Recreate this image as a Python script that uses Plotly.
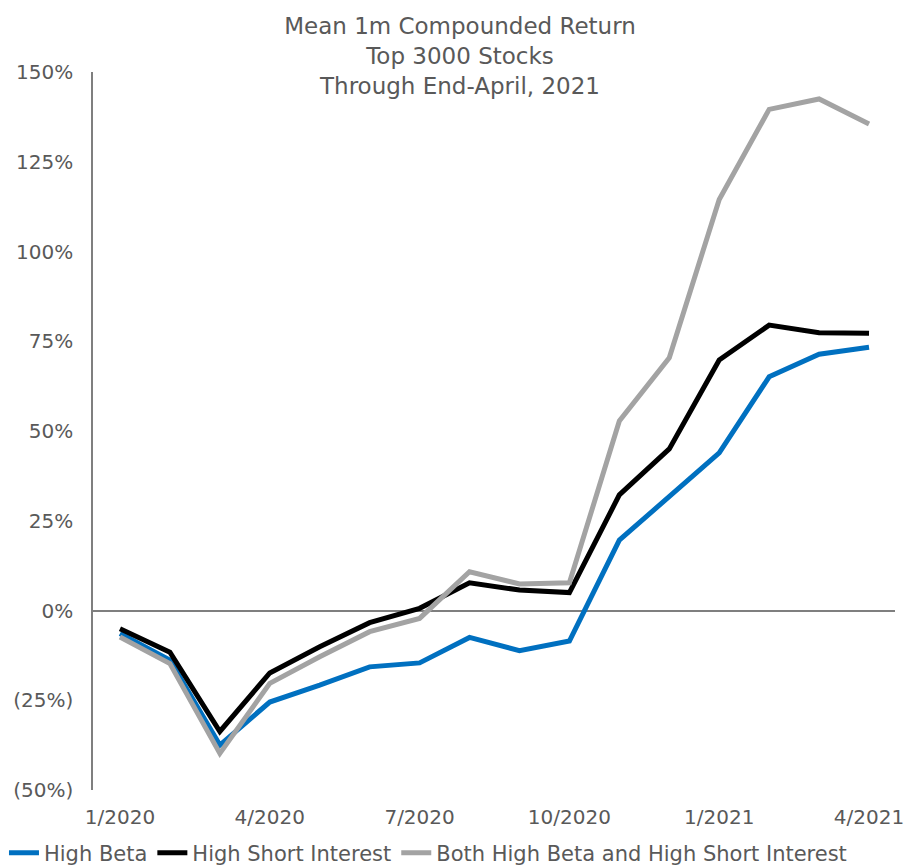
import plotly.graph_objects as go

months = ["1/2020", "2/2020", "3/2020", "4/2020", "5/2020", "6/2020", "7/2020", "8/2020",
          "9/2020", "10/2020", "11/2020", "12/2020", "1/2021", "2/2021", "3/2021", "4/2021"]

high_beta = [-6.4, -13.8, -37.5, -25.5, -20.8, -15.7, -14.6, -7.5,
             -11.2, -8.5, 19.6, 31.6, 43.9, 65.1, 71.4, 73.3]
high_short = [-5.1, -11.6, -33.7, -17.4, -10.1, -3.4, 0.6, 7.7,
              5.7, 5.0, 32.2, 45.0, 69.8, 79.5, 77.4, 77.2]
both = [-7.4, -14.8, -39.8, -20.3, -12.9, -5.9, -2.2, 10.8,
        7.4, 7.7, 52.8, 70.4, 114.5, 139.6, 142.5, 135.5]

x_ticks = ["1/2020", "4/2020", "7/2020", "10/2020", "1/2021", "4/2021"]
y_ticks = [-50, -25, 0, 25, 50, 75, 100, 125, 150]
y_labels = ["(50%)", "(25%)", "0%", "25%", "50%", "75%", "100%", "125%", "150%"]

FONT = "DejaVu Sans"
TXT = "#595959"

fig = go.Figure()
fig.add_trace(go.Scatter(x=months, y=high_beta, name="High Beta", mode="lines",
                         line=dict(color="#0070C0", width=5)))
fig.add_trace(go.Scatter(x=months, y=high_short, name="High Short Interest", mode="lines",
                         line=dict(color="#000000", width=5)))
fig.add_trace(go.Scatter(x=months, y=both, name="Both High Beta and High Short Interest", mode="lines",
                         line=dict(color="#A3A3A3", width=5)))

fig.update_layout(
    width=920, height=865,
    paper_bgcolor="white", plot_bgcolor="white",
    font=dict(family=FONT, color=TXT, size=20),
    margin=dict(l=93, r=25, t=72, b=75, autoexpand=False),
    title=dict(text="Mean 1m Compounded Return<br>Top 3000 Stocks<br>Through End-April, 2021",
               x=0.5, xanchor="center", xref="container",
               y=1 - 34 / 865, yanchor="top", yref="container",
               font=dict(family=FONT, size=23, color=TXT)),
    showlegend=True,
    # legend sits left of and below the plot area, so it can use the full width on one row
    legend=dict(orientation="h", x=-0.111, xanchor="left", xref="paper",
                y=-0.088, yanchor="middle", yref="paper",
                bgcolor="rgba(0,0,0,0)",
                font=dict(size=21, color=TXT), traceorder="normal", tracegroupgap=0),
)
fig.update_xaxes(type="category", range=[-0.54, 15.52], tickvals=x_ticks, ticktext=x_ticks,
                 showgrid=False, showline=False, zeroline=False, ticks="",
                 ticklabelstandoff=13, automargin=False,
                 tickfont=dict(size=20, color=TXT))
fig.update_yaxes(range=[-50, 150], tickvals=y_ticks, ticktext=y_labels,
                 showgrid=False, showline=True, linecolor="#7F7F7F", linewidth=1.5,
                 zeroline=True, zerolinecolor="#7F7F7F", zerolinewidth=1.5,
                 ticks="", ticklabelstandoff=14, automargin=False,
                 tickfont=dict(size=20, color=TXT))

fig.write_html("out.html", config={"displayModeBar": False},
               post_script="document.body.style.margin='0';")
